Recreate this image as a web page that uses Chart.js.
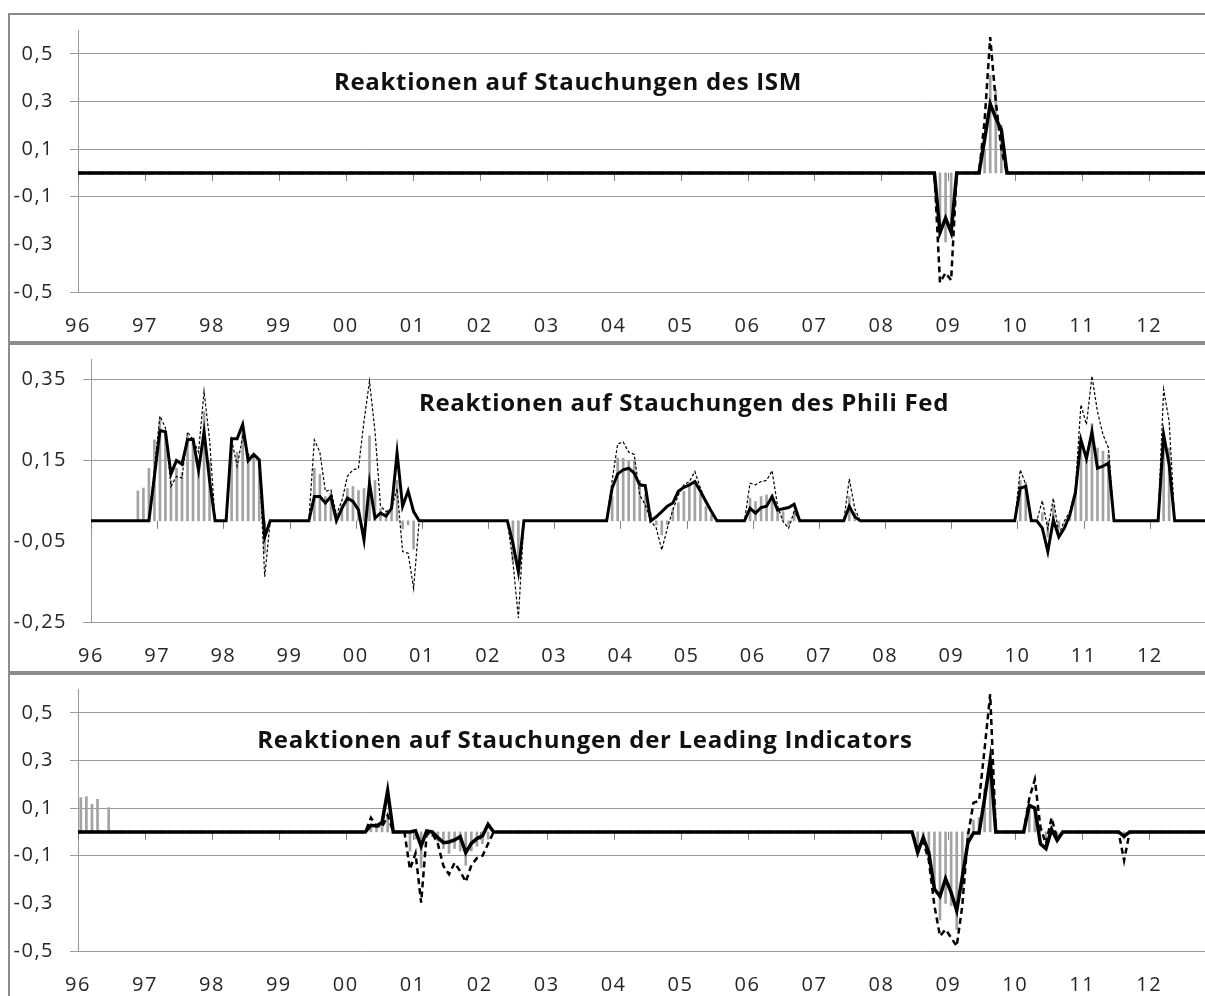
<!DOCTYPE html>
<html>
<head>
<meta charset="utf-8">
<script src="https://cdn.jsdelivr.net/npm/chart.js@4.4.1/dist/chart.umd.min.js"></script>
<style>
  html, body { margin: 0; padding: 0; background: #fff; overflow: hidden; width: 1205px; height: 996px; }
  .panel { position: absolute; left: 8px; width: 1215px; height: 330px; border: 2px solid #8c8c8c; box-sizing: border-box; }
  .panel canvas { position: absolute; left: 0; top: 0; }
</style>
</head>
<body>
<div class="panel" style="top:13px"><canvas id="ism" width="1195" height="326"></canvas></div>
<div class="panel" style="top:343px"><canvas id="phili" width="1195" height="326"></canvas></div>
<div class="panel" style="top:673px"><canvas id="leading" width="1195" height="326"></canvas></div>
<script>
// months counted from Jan 1996 (0)
const yearLabels = ['96', '97', '98', '99', '00', '01', '02', '03', '04', '05', '06', '07', '08', '09', '10', '11', '12'];

const yTicksWide = [-0.5, -0.3, -0.1, 0.1, 0.3, 0.5];
const yTicksPhili = [-0.25, -0.05, 0.15, 0.35];

// ISM
const ismBars = [[154, -0.22], [155, -0.29], [156, -0.22], [162, 0.1], [163, 0.41], [164, 0.35], [165, 0.2]];
const ismSolid = [[-0.5, 0], [153, 0], [154, -0.25], [155, -0.19], [156, -0.25], [157, 0], [161, 0], [162, 0.14],
  [163, 0.29], [164, 0.23], [165, 0.18], [166, 0], [202, 0]];
const ismDashed = [[-0.5, 0], [153, 0], [154, -0.46], [155, -0.42], [156, -0.45], [157, 0], [161, 0], [162, 0.22],
  [163, 0.57], [164, 0.3], [165, 0.1], [166, 0], [202, 0]];

// Phili Fed
const philiBars = [[8, 0.074], [9, 0.081], [10, 0.13], [11, 0.2], [12, 0.25], [13, 0.22], [14, 0.1], [15, 0.13],
  [16, 0.12], [17, 0.21], [18, 0.2], [19, 0.15], [20, 0.27], [21, 0.15], [25, 0.2], [26, 0.17], [27, 0.22],
  [28, 0.155], [29, 0.16], [30, 0.15], [31, -0.08], [40, 0.13], [41, 0.115], [42, 0.06], [43, 0.07], [44, 0.01],
  [45, 0.04], [46, 0.08], [47, 0.085], [48, 0.075], [49, 0.08], [50, 0.21], [51, 0.1], [52, 0.03], [53, 0.02],
  [54, 0.04], [55, 0.1], [56, -0.02], [57, -0.01], [58, -0.07], [76, -0.1], [77, -0.12], [94, 0.06], [95, 0.155],
  [96, 0.155], [97, 0.15], [98, 0.148], [99, 0.1], [100, 0.065], [101, 0.02], [102, -0.01], [103, -0.035],
  [104, -0.01], [105, 0.03], [106, 0.045], [107, 0.073], [108, 0.085], [109, 0.097], [110, 0.065], [111, 0.035],
  [112, 0.015], [119, 0.056], [120, 0.048], [121, 0.06], [122, 0.064], [123, 0.065], [124, 0.027], [125, 0.023],
  [126, -0.01], [127, 0.023], [137, 0.06], [138, 0.02], [168, 0.1], [169, 0.095], [172, 0.02], [173, -0.04],
  [174, 0.04], [175, -0.02], [177, 0.02], [178, 0.08], [179, 0.2], [180, 0.165], [181, 0.24], [182, 0.18],
  [183, 0.172], [184, 0.164], [194, 0.22], [195, 0.18]];
const philiSolid = [[-0.5, 0], [10, 0], [11, 0.11], [12, 0.223], [13, 0.22], [14, 0.116], [15, 0.149], [16, 0.14],
  [17, 0.2], [18, 0.202], [19, 0.125], [20, 0.22], [21, 0.1], [22, 0], [24, 0], [25, 0.203], [26, 0.203],
  [27, 0.238], [28, 0.149], [29, 0.164], [30, 0.151], [31, -0.04], [32, 0], [39, 0], [40, 0.06], [41, 0.06],
  [42, 0.044], [43, 0.06], [44, 0], [45, 0.031], [46, 0.056], [47, 0.048], [48, 0.027], [49, -0.047], [50, 0.093],
  [51, 0.007], [52, 0.019], [53, 0.012], [54, 0.031], [55, 0.168], [56, 0.036], [57, 0.074], [58, 0.023], [59, 0],
  [75, 0], [76, -0.055], [77, -0.126], [78, 0], [93, 0], [94, 0.081], [95, 0.116], [96, 0.126], [97, 0.13],
  [98, 0.118], [99, 0.089], [100, 0.087], [101, 0], [102, 0.01], [103, 0.023], [104, 0.036], [105, 0.044],
  [106, 0.073], [107, 0.083], [108, 0.089], [109, 0.097], [110, 0.073], [111, 0.048], [112, 0.023], [113, 0],
  [118, 0], [119, 0.031], [120, 0.019], [121, 0.033], [122, 0.036], [123, 0.06], [124, 0.027], [125, 0.03],
  [126, 0.033], [127, 0.041], [128, 0], [136, 0], [137, 0.036], [138, 0.01], [139, 0], [167, 0], [168, 0.081],
  [169, 0.085], [170, 0], [171, 0], [172, -0.018], [173, -0.076], [174, 0.002], [175, -0.04], [176, -0.018],
  [177, 0.015], [178, 0.069], [179, 0.2], [180, 0.154], [181, 0.22], [182, 0.13], [183, 0.135], [184, 0.143],
  [185, 0], [193, 0], [194, 0.213], [195, 0.139], [196, 0], [202, 0]];
const philiDashed = [[-0.5, 0], [10, 0], [11, 0.13], [12, 0.259], [13, 0.23], [14, 0.085], [15, 0.11], [16, 0.106],
  [17, 0.22], [18, 0.2], [19, 0.17], [20, 0.32], [21, 0.2], [22, 0], [24, 0], [25, 0.2], [26, 0.135], [27, 0.209],
  [28, 0.164], [29, 0.158], [30, 0.15], [31, -0.138], [32, 0], [39, 0], [40, 0.2], [41, 0.17], [42, 0.073],
  [43, 0.077], [44, 0.015], [45, 0.05], [46, 0.11], [47, 0.126], [48, 0.13], [49, 0.246], [50, 0.345], [51, 0.22],
  [52, 0.036], [53, 0.023], [54, 0.03], [55, 0.08], [56, -0.076], [57, -0.08], [58, -0.167], [59, 0], [75, 0],
  [76, -0.1], [77, -0.24], [78, 0], [93, 0], [94, 0.1], [95, 0.19], [96, 0.195], [97, 0.17], [98, 0.164],
  [99, 0.064], [100, 0.04], [101, 0], [102, -0.018], [103, -0.072], [104, -0.018], [105, 0.027], [106, 0.064],
  [107, 0.089], [108, 0.097], [109, 0.122], [110, 0.081], [111, 0.048], [112, 0.023], [113, 0], [118, 0],
  [119, 0.093], [120, 0.089], [121, 0.097], [122, 0.1], [123, 0.124], [124, 0.036], [125, -0.002], [126, -0.018],
  [127, 0.023], [128, 0], [136, 0], [137, 0.104], [138, 0.03], [139, 0], [167, 0], [168, 0.126], [169, 0.09],
  [170, 0], [171, 0], [172, 0.05], [173, -0.02], [174, 0.056], [175, -0.035], [176, 0], [177, 0.023], [178, 0.08],
  [179, 0.287], [180, 0.238], [181, 0.358], [182, 0.27], [183, 0.213], [184, 0.18], [185, 0], [193, 0],
  [194, 0.325], [195, 0.246], [196, 0], [202, 0]];

// Leading Indicators
const leadingBars = [[0, 0.144], [1, 0.148], [2, 0.116], [3, 0.137], [5, 0.102], [52, 0.02], [53, 0.02], [54, 0.04],
  [55, 0.06], [59, -0.08], [60, -0.03], [61, -0.15], [62, -0.01], [63, -0.02], [64, -0.04], [65, -0.07], [66, -0.09],
  [67, -0.07], [68, -0.08], [69, -0.14], [70, -0.08], [71, -0.06], [72, -0.05], [73, -0.03], [150, -0.06],
  [151, -0.05], [152, -0.1], [153, -0.23], [154, -0.37], [155, -0.3], [156, -0.31], [157, -0.41], [158, -0.24],
  [159, -0.04], [160, 0.05], [161, 0.06], [162, 0.18], [163, 0.29], [170, 0.11], [171, 0.1], [172, 0.03],
  [173, -0.03], [174, 0.02], [175, -0.02], [187, -0.03]];
const leadingSolid = [[-0.5, 0], [51, 0], [52, 0.028], [53, 0.025], [54, 0.039], [55, 0.172], [56, 0], [59, 0],
  [60, 0.005], [61, -0.06], [62, 0.004], [63, 0], [64, -0.024], [65, -0.045], [66, -0.042], [67, -0.034],
  [68, -0.02], [69, -0.087], [70, -0.048], [71, -0.028], [72, -0.017], [73, 0.032], [74, 0], [149, 0],
  [150, -0.087], [151, -0.024], [152, -0.087], [153, -0.24], [154, -0.27], [155, -0.196], [156, -0.255],
  [157, -0.33], [158, -0.19], [159, -0.045], [160, -0.005], [161, -0.005], [162, 0.14], [163, 0.3], [164, 0],
  [169, 0], [170, 0.112], [171, 0.1], [172, -0.05], [173, -0.07], [174, 0.01], [175, -0.035], [176, 0], [186, 0],
  [187, -0.018], [188, 0], [202, 0]];
const leadingDashed = [[-0.5, 0], [51, 0], [52, 0.06], [53, 0.025], [54, 0.02], [55, 0.07], [56, 0], [58, 0],
  [59, -0.157], [60, -0.09], [61, -0.297], [62, -0.01], [63, -0.006], [64, -0.05], [65, -0.143], [66, -0.178],
  [67, -0.13], [68, -0.165], [69, -0.21], [70, -0.14], [71, -0.11], [72, -0.1], [73, -0.05], [74, 0], [149, 0],
  [150, -0.07], [151, -0.04], [152, -0.12], [153, -0.31], [154, -0.437], [155, -0.41], [156, -0.444], [157, -0.48],
  [158, -0.31], [159, -0.017], [160, 0.123], [161, 0.13], [162, 0.35], [163, 0.578], [164, 0], [169, 0],
  [170, 0.14], [171, 0.22], [172, 0.02], [173, -0.05], [174, 0.06], [175, -0.03], [176, 0], [186, 0],
  [187, -0.12], [188, 0], [202, 0]];

const gridGrey = '#9b9b9b';
const labelFont = { family: 'Open Sans', size: 20 };

// a bit of spacing so the labels get the width of the original
const spacing = {
  id: 'spacing',
  beforeDraw(chart) {
    chart.ctx.letterSpacing = '1.5px';
  }
};

// small tick marks hanging below the zero line
const zeroTicks = {
  id: 'zeroTicks',
  beforeDatasetsDraw(chart) {
    const { ctx, scales: { x, y } } = chart;
    const y0 = y.getPixelForValue(0);
    ctx.save();
    ctx.strokeStyle = '#808080';
    ctx.lineWidth = 1;
    x.ticks.forEach(t => {
      const px = Math.round(x.getPixelForValue(t.value)) + 0.5;
      ctx.beginPath();
      ctx.moveTo(px, y0);
      ctx.lineTo(px, y0 + 8);
      ctx.stroke();
    });
    ctx.restore();
  }
};

const heading = {
  id: 'heading',
  afterDraw(chart, args, opts) {
    const ctx = chart.ctx;
    ctx.save();
    ctx.font = 'bold 24px "Open Sans"';
    ctx.letterSpacing = '0.7px';
    ctx.fillStyle = '#111';
    ctx.textAlign = 'center';
    ctx.textBaseline = 'middle';
    ctx.fillText(opts.text, opts.x, opts.y);
    ctx.restore();
  }
};

function toPoints(list) {
  return list.map(p => ({ x: p[0] + 0.5, y: p[1] }));
}

function createChart(id, cfg) {
  new Chart(document.getElementById(id), {
    type: 'line',
    data: {
      datasets: [
        {
          type: 'line',
          data: toPoints(cfg.solid),
          borderColor: '#000',
          borderWidth: cfg.solidWidth,
          pointRadius: 0,
          tension: 0,
          order: 1
        },
        {
          type: 'line',
          data: toPoints(cfg.dashed),
          borderColor: '#000',
          borderWidth: cfg.dashWidth,
          borderDash: cfg.dash,
          pointRadius: 0,
          tension: 0,
          order: 2
        },
        {
          type: 'bar',
          data: toPoints(cfg.bars),
          backgroundColor: '#a3a3a3',
          barThickness: 2,
          order: 3
        }
      ]
    },
    options: {
      responsive: false,
      animation: false,
      devicePixelRatio: 1,
      layout: {
        padding: { top: cfg.padTop, left: 0, right: 0, bottom: 0 }
      },
      plugins: {
        legend: { display: false },
        tooltip: { enabled: false },
        heading: cfg.title
      },
      scales: {
        x: {
          type: 'linear',
          min: 0,
          max: 202,
          offset: false,
          grid: { display: false, drawTicks: false, offset: false },
          border: { display: false },
          afterBuildTicks: axis => {
            axis.ticks = yearLabels.map((l, i) => ({ value: i * 12 }));
          },
          ticks: {
            callback: (v, i) => yearLabels[i],
            autoSkip: false,
            maxRotation: 0,
            color: '#262626',
            font: labelFont,
            padding: 22
          },
          afterFit: axis => {
            axis.height = cfg.axisHeight;
            axis.paddingLeft = 0;
            axis.paddingRight = 0;
          }
        },
        y: {
          min: cfg.yMin,
          max: cfg.yMax,
          afterBuildTicks: axis => {
            axis.ticks = cfg.yTicks.map(v => ({ value: v }));
          },
          ticks: {
            callback: v => v.toFixed(cfg.decimals).replace('.', ','),
            color: '#262626',
            font: labelFont,
            padding: 16
          },
          grid: {
            color: ctx => (ctx.tick && cfg.hiddenGrid.includes(ctx.tick.value)) ? 'rgba(0,0,0,0)' : gridGrey,
            lineWidth: 1,
            tickLength: 8
          },
          border: { color: gridGrey, width: 1 },
          afterFit: axis => {
            axis.width = cfg.axisWidth;
            axis.paddingTop = 0;
            axis.paddingBottom = 0;
          }
        }
      }
    },
    plugins: [spacing, zeroTicks, heading]
  });
}

createChart('ism', {
  bars: ismBars, solid: ismSolid, dashed: ismDashed,
  solidWidth: 3.5, dashWidth: 2.5, dash: [6, 4],
  yMin: -0.5, yMax: 0.6, yTicks: yTicksWide, decimals: 1, hiddenGrid: [-0.3],
  padTop: 15, axisHeight: 49, axisWidth: 68,
  title: { text: 'Reaktionen auf Stauchungen des ISM', x: 558, y: 68 }
});

createChart('phili', {
  bars: philiBars, solid: philiSolid, dashed: philiDashed,
  solidWidth: 3, dashWidth: 1.2, dash: [3, 2],
  yMin: -0.25, yMax: 0.4, yTicks: yTicksPhili, decimals: 2, hiddenGrid: [-0.05],
  padTop: 14, axisHeight: 49, axisWidth: 81,
  title: { text: 'Reaktionen auf Stauchungen des Phili Fed', x: 674, y: 59 }
});

createChart('leading', {
  bars: leadingBars, solid: leadingSolid, dashed: leadingDashed,
  solidWidth: 3.5, dashWidth: 2.5, dash: [6, 4],
  yMin: -0.5, yMax: 0.6, yTicks: yTicksWide, decimals: 1, hiddenGrid: [-0.3],
  padTop: 14, axisHeight: 50, axisWidth: 68,
  title: { text: 'Reaktionen auf Stauchungen der Leading Indicators', x: 575, y: 66 }
});
</script>
</body>
</html>
